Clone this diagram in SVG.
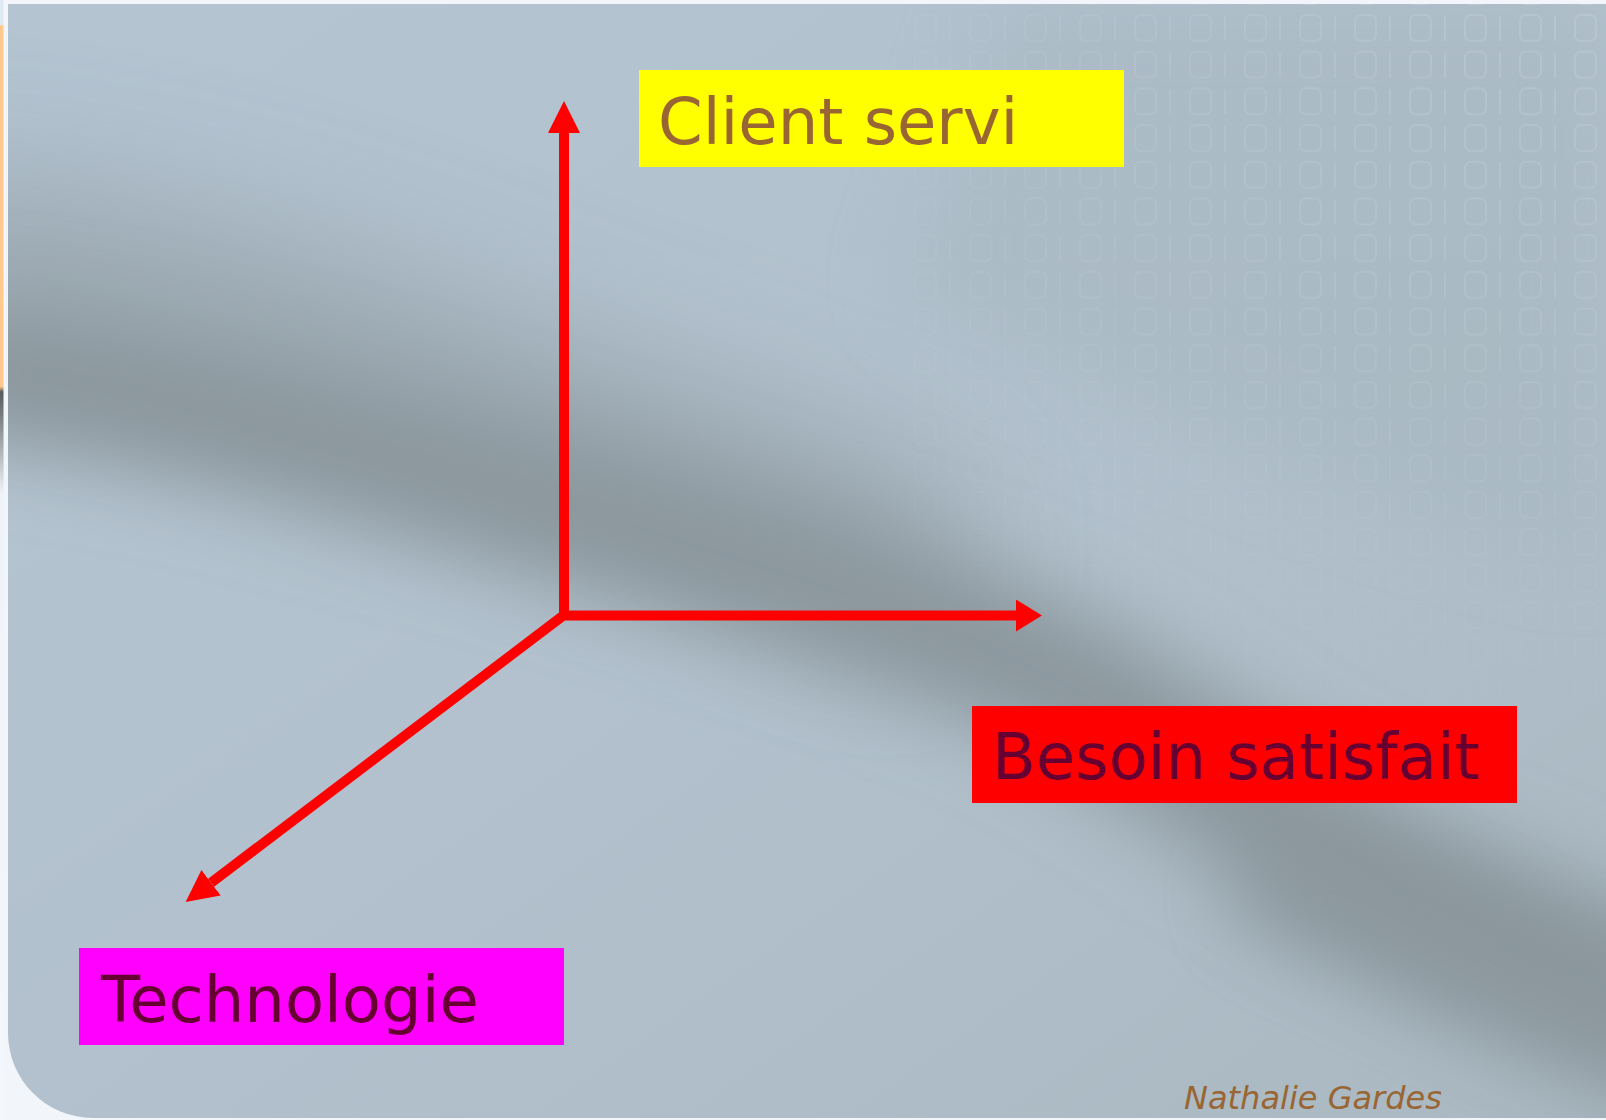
<svg xmlns="http://www.w3.org/2000/svg" width="1606" height="1120" viewBox="0 0 1606 1120">
  <style>
    .lbl { font-family: "DejaVu Sans", "Liberation Sans", sans-serif; font-size: 64px; }
    .axis { stroke: #ff0000; stroke-width: 10; fill: none; stroke-linecap: butt; }
    .sig { font-family: "DejaVu Sans", "Liberation Sans", sans-serif; font-size: 32px; font-style: italic; fill: #996633; }
  </style>
  <defs>
    <marker id="head" markerUnits="userSpaceOnUse" markerWidth="33" markerHeight="33" refX="0" refY="16" orient="auto">
      <path d="M0,0 L32,16 L0,32 Z" fill="#ff0000"/>
    </marker>
    <marker id="headShort" markerUnits="userSpaceOnUse" markerWidth="27" markerHeight="33" refX="0" refY="16" orient="auto">
      <path d="M0,0 L26,16 L0,32 Z" fill="#ff0000"/>
    </marker>
    <linearGradient id="strip" x1="0" y1="0" x2="0" y2="1">
      <stop offset="0" stop-color="#dfe9f2"/>
      <stop offset="0.022" stop-color="#dfe9f2"/>
      <stop offset="0.023" stop-color="#ffc88f"/>
      <stop offset="0.345" stop-color="#ffc88f"/>
      <stop offset="0.35" stop-color="#555a5c"/>
      <stop offset="0.44" stop-color="#eef3f9"/>
      <stop offset="1" stop-color="#f4f7fc"/>
    </linearGradient>
    <linearGradient id="bgGrad" x1="0" y1="0" x2="1" y2="1">
      <stop offset="0" stop-color="#b4c4d1"/>
      <stop offset="0.5" stop-color="#b2c1cd"/>
      <stop offset="1" stop-color="#aab8c1"/>
    </linearGradient>
    <radialGradient id="fadeTR" cx="1" cy="0" r="0.7">
      <stop offset="0" stop-color="#fff" stop-opacity="1"/>
      <stop offset="0.55" stop-color="#fff" stop-opacity="0.45"/>
      <stop offset="1" stop-color="#fff" stop-opacity="0"/>
    </radialGradient>
    <mask id="digitMask">
      <rect x="0" y="0" width="1606" height="1120" fill="url(#fadeTR)"/>
    </mask>
    <pattern id="digits" patternUnits="userSpaceOnUse" x="1022" y="10" width="55" height="36.7">
      <rect x="3" y="5" width="21" height="26" rx="6" fill="none" stroke="#c6d2da" stroke-width="2"/>
      <line x1="38" y1="6" x2="38" y2="31" stroke="#c6d2da" stroke-width="2"/>
    </pattern>
    <filter id="blurBig" x="-20%" y="-60%" width="140%" height="220%">
      <feGaussianBlur stdDeviation="40"/>
    </filter>
    <filter id="blurHuge" x="-20%" y="-80%" width="140%" height="260%">
      <feGaussianBlur stdDeviation="70"/>
    </filter>
    <clipPath id="bgClip">
      <path d="M8,4 H1606 V1118 H93 A85,85 0 0 1 8,1033 Z"/>
    </clipPath>
  </defs>

  <!-- page background -->
  <rect x="0" y="0" width="1606" height="1120" fill="#f2f5fa"/>
  <rect x="0" y="0" width="3.5" height="1120" fill="url(#strip)"/>

  <!-- slide background -->
  <g id="background" clip-path="url(#bgClip)">
    <rect x="0" y="0" width="1606" height="1120" fill="url(#bgGrad)"/>
    <path d="M1000,0 H1606 V560 C1400,520 1150,420 900,300 Z" fill="#a6b6bf" opacity="0.55" filter="url(#blurBig)"/>
    <!-- soft upper haze of the band on the left -->
    <path d="M-100,260 C150,270 380,360 560,430 C700,480 820,520 950,580" fill="none" stroke="#929ea5" stroke-width="160" filter="url(#blurHuge)" opacity="0.8"/>
    <!-- main band -->
    <path d="M-60,365 C150,385 380,455 560,505 C760,565 900,605 1060,680 C1200,760 1330,880 1700,1010" fill="none" stroke="#8b979d" stroke-width="140" filter="url(#blurBig)"/>
    <path d="M1250,860 C1400,930 1520,990 1700,1060" fill="none" stroke="#8a969c" stroke-width="120" filter="url(#blurBig)" opacity="0.8"/>
    <rect x="900" y="4" width="706" height="700" fill="url(#digits)" mask="url(#digitMask)" opacity="0.4"/>
  </g>

  <!-- connectors -->
  <g id="connectors">
    <line class="axis" x1="564" y1="620" x2="564" y2="133" marker-end="url(#head)"/>
    <line class="axis" x1="559" y1="615.5" x2="1016" y2="615.5" marker-end="url(#headShort)"/>
    <line class="axis" x1="564" y1="615" x2="211.1" y2="882.7" marker-end="url(#head)"/>
  </g>

  <!-- nodes -->
  <g id="node-client">
    <rect x="639" y="70" width="485" height="97" fill="#ffff00"/>
    <text class="lbl" x="658" y="144" fill="#996633">Client servi</text>
  </g>
  <g id="node-besoin">
    <rect x="972" y="706" width="545" height="97" fill="#ff0000"/>
    <text class="lbl" x="992" y="779" fill="#660033">Besoin satisfait</text>
  </g>
  <g id="node-technologie">
    <rect x="79" y="948" width="485" height="97" fill="#ff00ff"/>
    <text class="lbl" x="101" y="1022" fill="#660033">Technologie</text>
  </g>

  <text class="sig" x="1184" y="1109">Nathalie Gardes</text>
</svg>
